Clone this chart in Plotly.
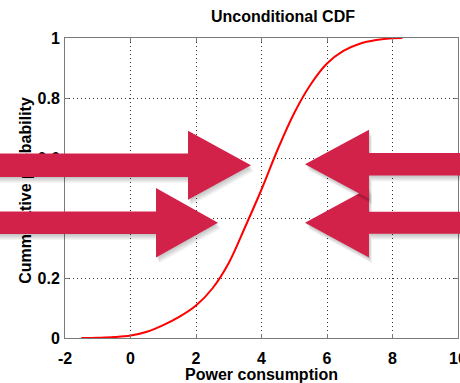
import plotly.graph_objects as go

# Power consumption values and the cumulative probability read at each one
power = [-1.5, -1.0, -0.5, 0.0, 0.5, 1.0, 1.5, 2.0, 2.5, 3.0, 3.5,
         4.0, 4.5, 5.0, 5.5, 6.0, 6.5, 7.0, 7.5, 8.0, 8.3]
cdf = [0.0, 0.001, 0.003, 0.008, 0.021, 0.043, 0.071, 0.108, 0.165, 0.25, 0.37,
       0.495, 0.63, 0.75, 0.845, 0.915, 0.957, 0.981, 0.993, 0.999, 1.0]

x_ticks = [-2, 0, 2, 4, 6, 8, 10]
x_tick_text = ["-2", "0", "2", "4", "6", "8", "10"]
y_ticks = [0, 0.2, 0.4, 0.6, 0.8, 1]
y_tick_text = ["0", "0.2", "0.4", "0.6", "0.8", "1"]

W, H = 460, 383
L, R, T, B = 65, 2, 38, 45
PW, PH = W - L - R, H - T - B

FONT = "Liberation Sans"
ARROW = "#D3224A"


def fx(x):
    """Pixel column -> paper x."""
    return (x - L) / PW


def fy(y):
    """Pixel row -> paper y."""
    return (H - B - y) / PH


def arrow_path(tail, tip, cy, shaft_h, head_h, head_len, dx=0.0, dy=0.0):
    d = 1 if tip > tail else -1
    base = tip - d * head_len
    pts = [
        (tail, cy - shaft_h / 2), (base, cy - shaft_h / 2), (base, cy - head_h / 2),
        (tip, cy), (base, cy + head_h / 2), (base, cy + shaft_h / 2),
        (tail, cy + shaft_h / 2),
    ]
    return "M" + " L".join(f"{fx(x + dx):.4f},{fy(y + dy):.4f}" for x, y in pts) + " Z"


# Block arrows: (tail, tip, centre row, shaft height, head height, head length)
arrows = [
    (-10, 218, 222.7, 22.5, 69.5, 62),
    (470, 305, 222.7, 22.0, 69.5, 64),
    (-10, 251, 165.3, 23.5, 69.0, 63),
    (470, 305, 164.3, 22.5, 69.0, 64),
]

shapes = [
    # vertical axis caption, placed under the arrows
    dict(type="line", xref="paper", yref="paper",
         x0=fx(23), x1=fx(23), y0=fy(285), y1=fy(96),
         line=dict(width=0, color="rgba(0,0,0,0)"), layer="above",
         label=dict(text="Cummulative probability", textangle=-90,
                    textposition="middle", xanchor="center", yanchor="middle",
                    padding=0, font=dict(family=FONT, size=16, color="black",
                                         weight="bold"))),
]

for tail, tip, cy, sh, hh, hl in arrows:
    # soft drop shadow
    for k in range(1, 7):
        shapes.append(dict(type="path", xref="paper", yref="paper", layer="above",
                           path=arrow_path(tail, tip, cy, sh, hh, hl,
                                           dx=0.5 * k, dy=1.0 * k),
                           fillcolor="rgba(0,0,0,0.04)", line=dict(width=0)))
    shapes.append(dict(type="path", xref="paper", yref="paper", layer="above",
                       path=arrow_path(tail, tip, cy, sh, hh, hl),
                       fillcolor=ARROW, line=dict(width=0)))

fig = go.Figure()
fig.add_trace(go.Scatter(
    x=power, y=cdf, mode="lines",
    line=dict(color="#FF0000", width=2, shape="spline", smoothing=1.0),
    hoverinfo="skip", showlegend=False,
))

axis_common = dict(
    showline=True, linecolor="#7a7a7a", linewidth=1, mirror="ticks",
    ticks="inside", ticklen=4, tickcolor="#7a7a7a",
    showgrid=True, gridcolor="#333333", gridwidth=1, griddash="1px,3px",
    zeroline=False, ticklabeloverflow="allow",
    tickfont=dict(family=FONT, size=16, color="black", weight="bold"),
)

fig.update_layout(
    width=W, height=H,
    margin=dict(l=L, r=R, t=T, b=B, pad=0),
    paper_bgcolor="white", plot_bgcolor="white",
    title=dict(text="Unconditional CDF", x=fx(283), xref="paper", xanchor="center",
               y=1 - 16 / H, yref="container", yanchor="middle",
               font=dict(family=FONT, size=16, color="black", weight="bold")),
    xaxis=dict(range=[-2, 10], tickvals=x_ticks, ticktext=x_tick_text,
               automargin=False, ticklabelstandoff=6,
               title=dict(text="Power consumption", standoff=6,
                          font=dict(family=FONT, size=16, color="black",
                                    weight="bold")),
               **axis_common),
    yaxis=dict(range=[0, 1], tickvals=y_ticks, ticktext=y_tick_text,
               automargin=False, ticklabelstandoff=1, **axis_common),
    shapes=shapes,
    showlegend=False,
)

fig.write_html("out.html")
